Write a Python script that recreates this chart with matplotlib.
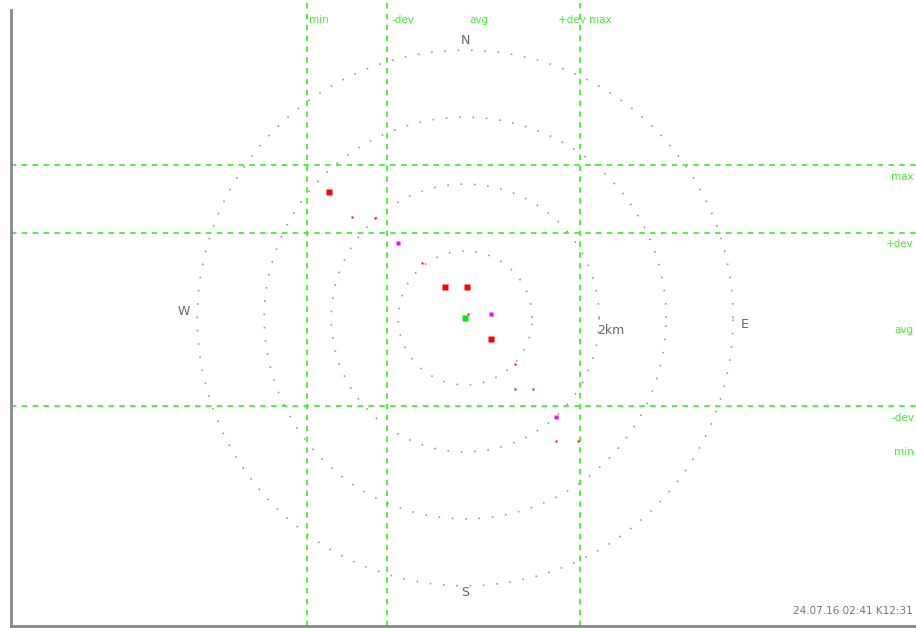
from matplotlib import pyplot as plt
import numpy as np

# ring radii (km)
rings = [1, 2, 3, 4]
ring_label = '2km'

# observed points (x km east, y km north)
big_x = [-2.04, -0.30, 0.03, 0.39]
big_y = [1.88, 0.46, 0.46, -0.31]
small_x = [-1.69, -1.34, -0.64, 0.04, 0.75, 0.75, 1.01, 1.36, 1.69]
small_y = [1.51, 1.49, 0.82, 0.06, -0.69, -1.06, -1.06, -1.84, -1.84]
mag_x = [-1.0, 0.39, 1.36]
mag_y = [1.12, 0.06, -1.48]
centre = (0.0, 0.0)

# statistic lines
vlines = [-2.36, -1.16, 1.72]
hlines = [2.28, 1.27, -1.31]
top_labels = [('min', -2.33), ('-dev', -1.10), ('avg', 0.07), ('+dev max', 1.38)]
right_labels = [('max', 2.10), ('+dev', 1.10), ('avg', -0.18), ('-dev', -1.50), ('min', -2.00)]
stamp = '24.07.16 02:41 K12:31'

fig = plt.figure(figsize=(9.16, 6.28), dpi=100)
ax = fig.add_axes([11/916, 2/628, 905/916, 626/628])
ax.set_xlim(-6.78, 6.73)
ax.set_ylim(-4.6, 4.75)

t = np.linspace(0, 2*np.pi, 400)
for r in rings:
    ax.plot(r*np.cos(t), r*np.sin(t), color='#999999', lw=1.2, ls=(0, (1, 7)))

gc = '#44ee33'
for v in vlines:
    ax.axvline(v, color=gc, lw=1.3, ls=(0, (3, 3)))
for h in hlines:
    ax.axhline(h, color=gc, lw=1.3, ls=(0, (3, 3)))

for s, xv in top_labels:
    ax.text(xv, 4.45, s, color=gc, fontsize=7.5, ha='left', va='center')
for s, yv in right_labels:
    ax.text(6.7, yv, s, color=gc, fontsize=7.5, ha='right', va='center')

ax.plot(small_x, small_y, 's', color='red', ms=2, mec='none')
ax.plot(big_x, big_y, 's', color='red', ms=4, mec='none')
ax.plot(mag_x, mag_y, 's', color='magenta', ms=2.5, mec='none')
ax.plot(*centre, 's', color='#00ee00', ms=4.5, mec='none')

ax.text(0, 4.14, 'N', color='#666666', fontsize=9, ha='center', va='center')
ax.text(0, -4.1, 'S', color='#666666', fontsize=9, ha='center', va='center')
ax.text(-4.2, 0.1, 'W', color='#666666', fontsize=9, ha='center', va='center')
ax.text(4.18, -0.1, 'E', color='#666666', fontsize=9, ha='center', va='center')
ax.text(1.97, -0.18, ring_label, color='#666666', fontsize=9, ha='left', va='center')
ax.text(6.68, -4.38, stamp, color='#777777', fontsize=7.5, ha='right', va='center')

for s in ['top', 'right']:
    ax.spines[s].set_visible(False)
for s in ['left', 'bottom']:
    ax.spines[s].set_color('#888888')
    ax.spines[s].set_linewidth(2)
ax.spines['left'].set_bounds(-4.6, 4.6)
ax.set_xticks([])
ax.set_yticks([])

plt.savefig('out.png', dpi=100)
